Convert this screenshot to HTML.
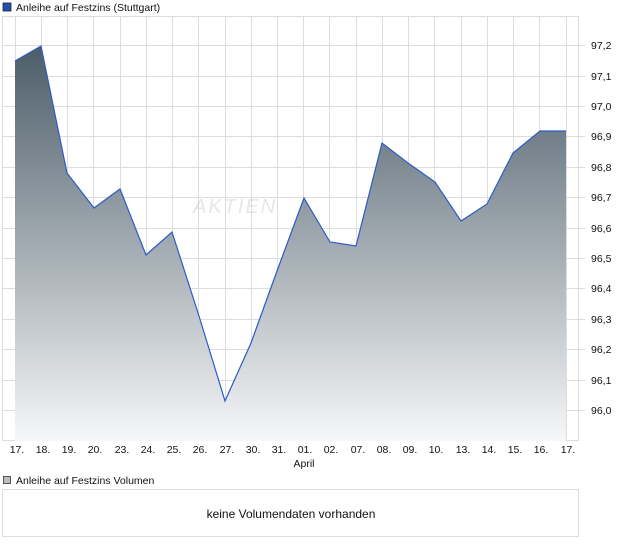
<!DOCTYPE html>
<html><head><meta charset="utf-8"><style>
body{margin:0;background:#fff;width:620px;height:546px;overflow:hidden;font-family:"Liberation Sans",sans-serif}
</style></head><body>
<svg width="620" height="546" xmlns="http://www.w3.org/2000/svg" font-family="Liberation Sans, sans-serif">
<defs><linearGradient id="g" gradientUnits="userSpaceOnUse" x1="0" y1="46" x2="0" y2="441">
<stop offset="0" stop-color="#4c5d69"/><stop offset="1" stop-color="#f6f7f8"/></linearGradient></defs>
<rect x="3" y="3" width="8" height="8" fill="#1f4fb0" stroke="#222" stroke-width="0.8"/>
<text x="16" y="11" font-size="10.5" fill="#111">Anleihe auf Festzins (Stuttgart)</text>
<rect x="2.5" y="16.5" width="576" height="424" fill="#fff" stroke="#ddd"/>
<g stroke="#ddd" stroke-width="1">
<path d="M15.5 17V441M41.5 17V441M67.5 17V441M93.5 17V441M120.5 17V441M146.5 17V441M172.5 17V441M198.5 17V441M225.5 17V441M251.5 17V441M277.5 17V441M303.5 17V441M329.5 17V441M356.5 17V441M382.5 17V441M408.5 17V441M434.5 17V441M461.5 17V441M487.5 17V441M513.5 17V441M539.5 17V441M566.5 17V441"/>
<path d="M3 45.5H585M3 76.5H585M3 106.5H585M3 136.5H585M3 167.5H585M3 197.5H585M3 228.5H585M3 258.5H585M3 288.5H585M3 319.5H585M3 349.5H585M3 380.5H585M3 410.5H585"/>
</g>
<polygon fill="url(#g)" points="15,61 41,46 67,173 94,208 120,189 146,255 172,232 199,316 225,401 251,343 277,271 304,198 330,242 356,246 382,143 408,163 435,182 461,221 487,204 513,153 540,131 566,131 566,441 15,441"/>
<text x="193" y="213" font-size="20" fill="#a89d95" fill-opacity="0.25" font-style="italic" letter-spacing="2">AKTIEN</text>
<polyline fill="none" stroke="#2a5bc8" stroke-width="1.2" points="15,61 41,46 67,173 94,208 120,189 146,255 172,232 199,316 225,401 251,343 277,271 304,198 330,242 356,246 382,143 408,163 435,182 461,221 487,204 513,153 540,131 566,131"/>
<g font-size="10.5" fill="#111">
<text x="591" y="49">97,2</text><text x="591" y="80">97,1</text><text x="591" y="110">97,0</text><text x="591" y="140">96,9</text><text x="591" y="171">96,8</text><text x="591" y="201">96,7</text><text x="591" y="232">96,6</text><text x="591" y="262">96,5</text><text x="591" y="292">96,4</text><text x="591" y="323">96,3</text><text x="591" y="353">96,2</text><text x="591" y="384">96,1</text><text x="591" y="414">96,0</text>
</g>
<g font-size="10.5" fill="#111" text-anchor="middle">
<text x="17" y="453">17.</text><text x="43" y="453">18.</text><text x="69" y="453">19.</text><text x="95" y="453">20.</text><text x="122" y="453">23.</text><text x="148" y="453">24.</text><text x="174" y="453">25.</text><text x="200" y="453">26.</text><text x="227" y="453">27.</text><text x="253" y="453">30.</text><text x="279" y="453">31.</text><text x="305" y="453">01.</text><text x="331" y="453">02.</text><text x="358" y="453">07.</text><text x="384" y="453">08.</text><text x="410" y="453">09.</text><text x="436" y="453">10.</text><text x="463" y="453">13.</text><text x="489" y="453">14.</text><text x="515" y="453">15.</text><text x="541" y="453">16.</text><text x="568" y="453">17.</text>
<text x="304" y="467">April</text>
</g>
<rect x="3.5" y="476.5" width="7" height="7" fill="#bbb" stroke="#333" stroke-width="0.8"/>
<text x="16" y="484" font-size="10.5" fill="#111">Anleihe auf Festzins Volumen</text>
<rect x="2.5" y="489.5" width="576" height="47" fill="#fff" stroke="#ddd"/>
<text x="291" y="518" font-size="12" fill="#111" text-anchor="middle">keine Volumendaten vorhanden</text>
</svg>
</body></html>
